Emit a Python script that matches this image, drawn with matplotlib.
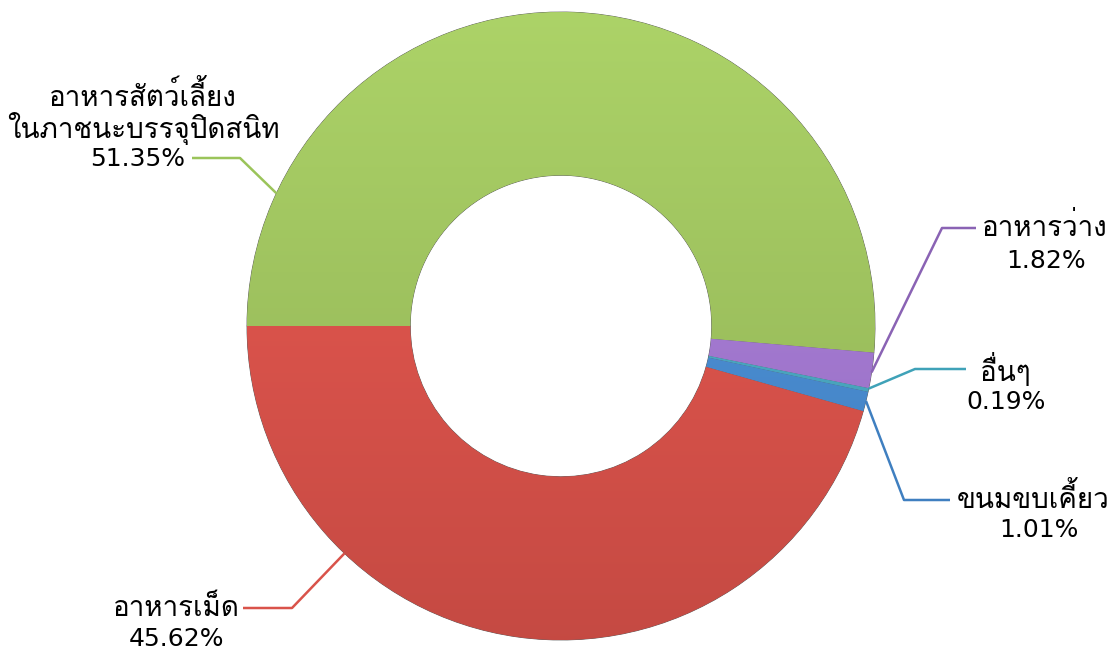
import numpy as np
import matplotlib
matplotlib.use('Agg')
import matplotlib.pyplot as plt
from matplotlib import font_manager
from matplotlib.colors import LinearSegmentedColormap, to_rgb

labels = ['อาหารสัตว์เลี้ยง\nในภาชนะบรรจุปิดสนิท', 'อาหารว่าง', 'อื่นๆ', 'ขนมขบเคี้ยว', 'อาหารเม็ด']
shares = [51.35, 1.82, 0.19, 1.01, 45.62]
colors = ['#a2c760', '#a77bd6', '#4bacc6', '#4a8fd6', '#e0544c']
line_colors = ['#9bc45a', '#8a63b4', '#3fa2b8', '#3f7fc0', '#d9534a']


def thai_family():
    # look for an installed font that has Thai glyphs
    try:
        from fontTools.ttLib import TTFont
    except ImportError:
        return None
    for f in font_manager.fontManager.ttflist:
        try:
            cmap = TTFont(f.fname, fontNumber=0, lazy=True).getBestCmap()
        except Exception:
            continue
        if cmap and 0x0E2D in cmap and 0x0E48 in cmap:
            return f.name
    return None


fam = thai_family()
plt.rcParams['font.family'] = ['DejaVu Sans'] + ([fam] if fam else [])

W, H = 1113, 653
fig = plt.figure(figsize=(W / 100, H / 100), dpi=100)
ax = fig.add_axes([0, 0, 1, 1])

cx, cy, R = 561, H - 326, 314
ring = 0.52 * R

wedges, _ = ax.pie(shares, colors=colors, startangle=180, counterclock=False,
                   center=(cx, cy), radius=R, frame=True,
                   wedgeprops=dict(width=ring, edgecolor='#5a5a5a', linewidth=0.6))
ax.set_xlim(0, W)
ax.set_ylim(0, H)
ax.set_aspect('equal')
ax.axis('off')

# soft vertical shading inside each slice, lighter at the top
grad = np.linspace(0, 1, 256).reshape(-1, 1)
for w, c in zip(wedges, colors):
    base = np.array(to_rgb(c))
    light = np.clip(base * 1.04 + 0.015, 0, 1)
    dark = base * 0.88
    cmap = LinearSegmentedColormap.from_list('g', [dark, light])
    im = ax.imshow(grad, cmap=cmap, extent=(cx - R, cx + R, cy - R, cy + R),
                   aspect='auto', zorder=w.get_zorder() + 0.1, origin='lower')
    im.set_clip_path(w)

# label layout: angle where leader touches, elbow, line end, name centre, value centre
anchor_ang = [155, -8.5, -11.5, -13.8, -133.6]
elbows = [(240, 158), (942, 228), (915, 369), (904, 500), (292, 608)]
ends = [(192, 158), (976, 228), (966, 369), (950, 500), (243, 608)]
name_pos = [(143, 113), (1045, 228), (1006, 370), (1033, 499), (176, 608)]
value_pos = [(138, 159), (1046, 261), (1006, 402), (1039, 530), (176, 639)]

for i in range(len(shares)):
    a = np.deg2rad(anchor_ang[i])
    px, py = cx + R * np.cos(a), cy + R * np.sin(a)
    ex, ey = elbows[i]
    lx, ly = ends[i]
    ax.plot([px, ex, lx], [py, H - ey, H - ly], color=line_colors[i], lw=1.8,
            solid_capstyle='butt', zorder=5)
    nx, ny = name_pos[i]
    ax.text(nx, H - ny, labels[i], ha='center', va='center',
            fontsize=20, color='black', linespacing=1.0, zorder=6)
    vx, vy = value_pos[i]
    ax.text(vx, H - vy, f'{shares[i]:.2f}%', ha='center', va='center',
            fontsize=18, color='black', zorder=6)

fig.savefig('out.png', dpi=100)
